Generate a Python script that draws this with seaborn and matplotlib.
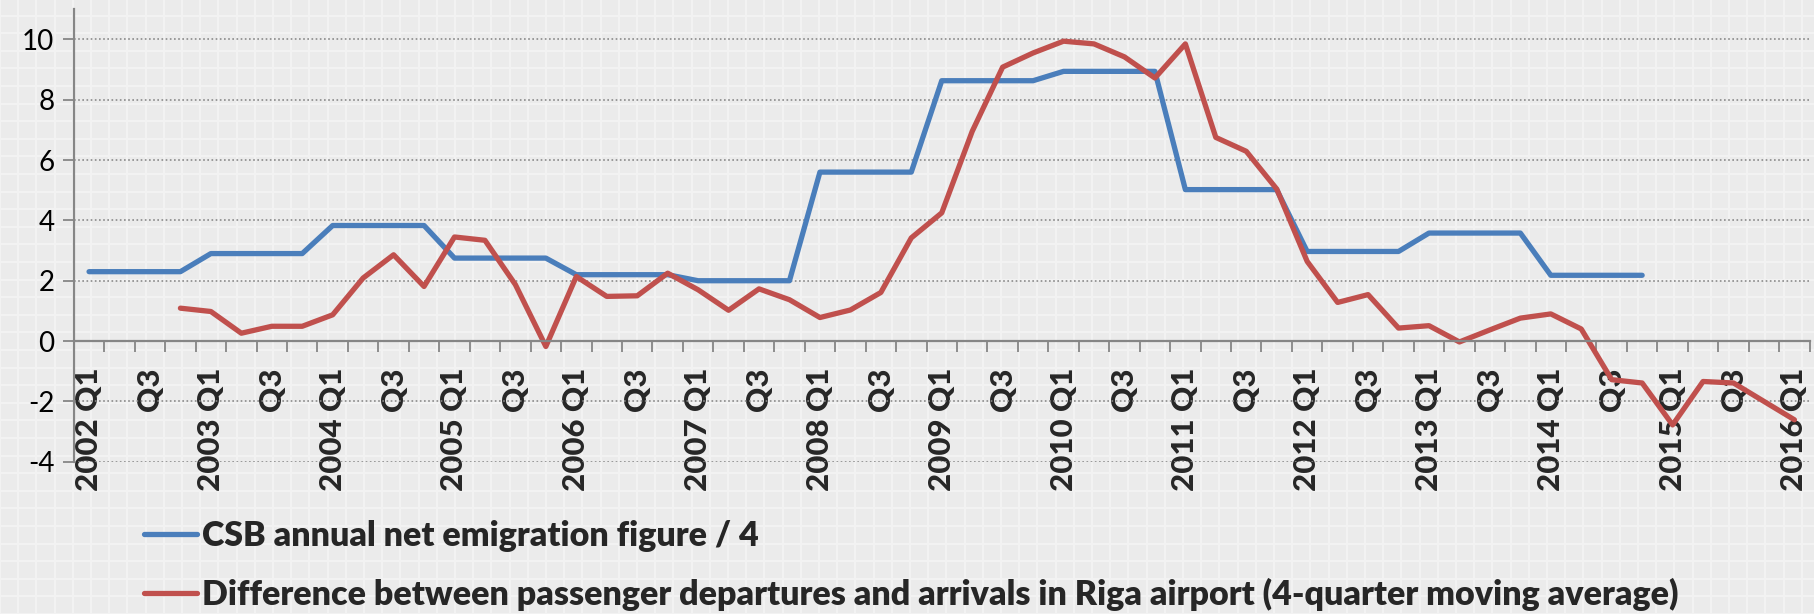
import numpy as np
import pandas as pd
import matplotlib
matplotlib.use("Agg")
import matplotlib.pyplot as plt
import seaborn as sns

# --- Data ---

quarters = [
    "2002 Q1", "2002 Q2", "2002 Q3", "2002 Q4", "2003 Q1", "2003 Q2", "2003 Q3", "2003 Q4",
    "2004 Q1", "2004 Q2", "2004 Q3", "2004 Q4", "2005 Q1", "2005 Q2", "2005 Q3", "2005 Q4",
    "2006 Q1", "2006 Q2", "2006 Q3", "2006 Q4", "2007 Q1", "2007 Q2", "2007 Q3", "2007 Q4",
    "2008 Q1", "2008 Q2", "2008 Q3", "2008 Q4", "2009 Q1", "2009 Q2", "2009 Q3", "2009 Q4",
    "2010 Q1", "2010 Q2", "2010 Q3", "2010 Q4", "2011 Q1", "2011 Q2", "2011 Q3", "2011 Q4",
    "2012 Q1", "2012 Q2", "2012 Q3", "2012 Q4", "2013 Q1", "2013 Q2", "2013 Q3", "2013 Q4",
    "2014 Q1", "2014 Q2", "2014 Q3", "2014 Q4", "2015 Q1", "2015 Q2", "2015 Q3", "2015 Q4",
    "2016 Q1",
]

tick_labels = [
    "2002 Q1", "Q3", "2003 Q1", "Q3", "2004 Q1", "Q3", "2005 Q1", "Q3",
    "2006 Q1", "Q3", "2007 Q1", "Q3", "2008 Q1", "Q3", "2009 Q1", "Q3",
    "2010 Q1", "Q3", "2011 Q1", "Q3", "2012 Q1", "Q3", "2013 Q1", "Q3",
    "2014 Q1", "Q3", "2015 Q1", "Q3", "2016 Q1",
]

csb_net_emigration = [
    2.30, 2.30, 2.30, 2.30, 2.90, 2.90, 2.90, 2.90,
    3.83, 3.83, 3.83, 3.83, 2.75, 2.75, 2.75, 2.75,
    2.20, 2.20, 2.20, 2.20, 2.00, 2.00, 2.00, 2.00,
    5.60, 5.60, 5.60, 5.60, 8.63, 8.63, 8.63, 8.63,
    8.94, 8.94, 8.94, 8.94, 5.02, 5.02, 5.02, 5.02,
    2.97, 2.97, 2.97, 2.97, 3.58, 3.58, 3.58, 3.58,
    2.18, 2.18, 2.18, 2.18, None, None, None, None,
    None,
]

airport_difference = [
    None, None, None, 1.09, 0.98, 0.26, 0.49, 0.49,
    0.87, 2.09, 2.86, 1.81, 3.45, 3.34, 1.87, -0.18,
    2.14, 1.48, 1.50, 2.25, 1.70, 1.02, 1.73, 1.37,
    0.78, 1.03, 1.61, 3.42, 4.25, 6.95, 9.08, 9.55,
    9.94, 9.85, 9.42, 8.72, 9.85, 6.75, 6.29, 5.04,
    2.64, 1.28, 1.54, 0.43, 0.51, -0.03, 0.37, 0.76,
    0.90, 0.40, -1.28, -1.39, -2.78, -1.34, -1.39, -2.00,
    -2.61,
]

series_names = [
    "CSB annual net emigration figure / 4",
    "Difference between passenger departures and arrivals in Riga airport (4-quarter moving average)",
]
series_colors = ["#4a7ebb", "#c0504d"]

y_ticks = [-4, -2, 0, 2, 4, 6, 8, 10]

# --- Long-form table ---

df = pd.concat([
    pd.DataFrame({"pos": np.arange(len(quarters)), "quarter": quarters,
                  "value": pd.array(csb_net_emigration, dtype="Float64"), "series": series_names[0]}),
    pd.DataFrame({"pos": np.arange(len(quarters)), "quarter": quarters,
                  "value": pd.array(airport_difference, dtype="Float64"), "series": series_names[1]}),
]).dropna(subset=["value"])
df["value"] = df["value"].astype(float)

# --- Style ---

sns.set_theme(style="white")
plt.rcParams["font.family"] = ["Lato", "DejaVu Sans"]

BG = "#ebebeb"
fig = plt.figure(figsize=(18.14, 6.14), dpi=100, facecolor=BG)

# faint paper texture behind everything
bg = fig.add_axes([0, 0, 1, 1], zorder=-5)
bg.set_xlim(0, 1814)
bg.set_ylim(0, 614)
bg.set_facecolor(BG)
bg.set_xticks(np.arange(0, 1814, 18.2))
bg.set_yticks(np.arange(0, 614, 17.6))
bg.grid(True, color="#f2f2f2", linewidth=1.6)
bg.tick_params(length=0, labelbottom=False, labelleft=False)
for s in bg.spines.values():
    s.set_visible(False)

ax = fig.add_axes([0.0407, 0.248, 0.9569, 0.737])
ax.patch.set_alpha(0)

sns.lineplot(data=df, x="pos", y="value", hue="series", hue_order=series_names,
             palette=series_colors, linewidth=3.8, ax=ax, legend=False,
             solid_capstyle="round", solid_joinstyle="round")

ax.set_xlim(-0.5, len(quarters) - 0.5)
ax.set_ylim(-4, 11)

# y axis
ax.set_yticks(y_ticks)
ax.set_yticklabels([str(v) for v in y_ticks], fontsize=20, color="black")
ax.yaxis.grid(True, linestyle=(0, (1, 1.5)), color="#8a8a8a", linewidth=1.2)
ax.tick_params(axis="y", length=8, width=1.3, color="#868686", pad=6, direction="out", left=True)

# x axis crossing at zero, ticks between categories
ax.spines["bottom"].set_position(("data", 0))
for side in ["top", "right"]:
    ax.spines[side].set_visible(False)
for side in ["bottom", "left"]:
    ax.spines[side].set_color("#868686")
    ax.spines[side].set_linewidth(1.6)

ax.set_xticks(np.arange(-0.5, len(quarters), 1.0))
ax.set_xticklabels([])
ax.tick_params(axis="x", which="major", length=8, width=1.3, color="#868686",
               direction="out", bottom=True)
ax.set_xticks(np.arange(0, len(quarters), 2), minor=True)
ax.set_xticklabels(tick_labels, minor=True, rotation=90, fontsize=22.5,
                   fontweight=900, va="top", ha="center")
ax.tick_params(axis="x", which="minor", length=0, pad=19)
ax.set_xlabel("")
ax.set_ylabel("")

# legend below the plot
handles = [plt.Line2D([], [], color=c, linewidth=3.8, solid_capstyle="round") for c in series_colors]
fig.legend(handles, series_names, loc="upper left", bbox_to_anchor=(0.072, 0.176),
           frameon=False, prop={"size": 24.5, "weight": 800},
           handlelength=1.55, handletextpad=0.15, labelspacing=0.76, borderaxespad=0)

fig.savefig("out.png", dpi=100, facecolor=BG)
